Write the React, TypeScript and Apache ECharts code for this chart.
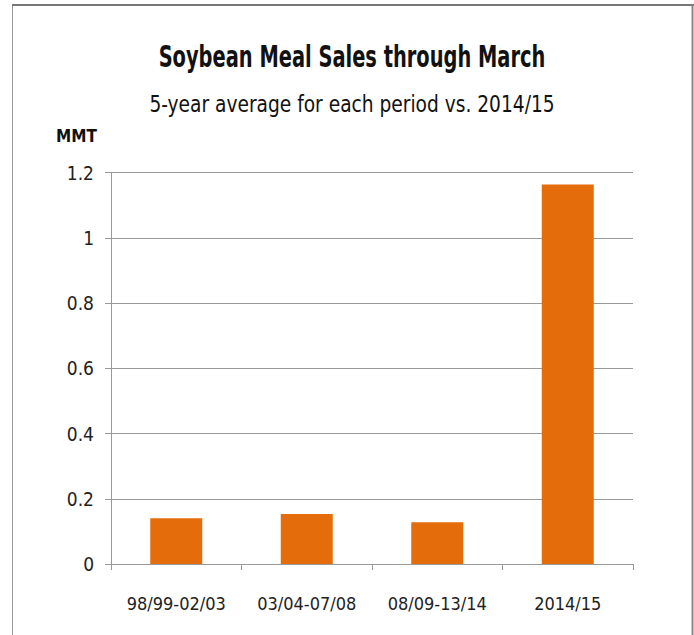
import React, { useEffect, useRef } from "react";
import * as echarts from "echarts";

const categories = ["98/99-02/03", "03/04-07/08", "08/09-13/14", "2014/15"];
const salesValues = [0.14, 0.153, 0.128, 1.163];
const titleText = "Soybean Meal Sales through March";
const subtitleText = "5-year average for each period vs. 2014/15";
const unitLabel = "MMT";

const FONT = "'DejaVu Sans Condensed', 'DejaVu Sans', sans-serif";

export default function App() {
  const ref = useRef<HTMLDivElement>(null);
  useEffect(() => {
    if (!ref.current) return;
    const chart = echarts.init(ref.current, null, { renderer: "svg" });
    chart.setOption({
      animation: false,
      backgroundColor: "#ffffff",
      textStyle: { fontFamily: FONT },
      graphic: [
        { type: "line", shape: { x1: 12.5, y1: 5, x2: 12.5, y2: 635 }, style: { stroke: "#999", lineWidth: 1 } },
        { type: "line", shape: { x1: 12, y1: 5, x2: 694, y2: 5 }, style: { stroke: "#777", lineWidth: 2 } },
        { type: "line", shape: { x1: 692.5, y1: 5, x2: 692.5, y2: 635 }, style: { stroke: "#888", lineWidth: 2 } },
        {
          type: "text",
          x: 352,
          y: 57,
          scaleX: 0.72,
          style: {
            text: titleText,
            fontFamily: FONT,
            fontSize: 30,
            fontWeight: "bold",
            fill: "#111",
            textAlign: "center",
            textVerticalAlign: "middle",
          },
        },
        {
          type: "text",
          x: 352,
          y: 104,
          scaleX: 0.9,
          style: {
            text: subtitleText,
            fontFamily: FONT,
            fontSize: 23,
            fill: "#111",
            textAlign: "center",
            textVerticalAlign: "middle",
          },
        },
        {
          type: "text",
          left: 56,
          top: 127,
          style: { text: unitLabel, fontFamily: FONT, fontSize: 17, fontWeight: "bold", fill: "#111" },
        },
      ],
      grid: { left: 111, right: 61, top: 172.5, bottom: 71, containLabel: false },
      xAxis: {
        type: "category",
        data: categories,
        axisLine: { show: true, lineStyle: { color: "#999", width: 1 } },
        axisTick: { show: true, alignWithLabel: false, length: 6, lineStyle: { color: "#999" } },
        axisLabel: { fontFamily: FONT, fontSize: 18, color: "#222", margin: 30, interval: 0 },
      },
      yAxis: {
        type: "value",
        min: 0,
        max: 1.2,
        interval: 0.2,
        axisLine: { show: true, lineStyle: { color: "#999", width: 1 } },
        axisTick: { show: true, length: 6, lineStyle: { color: "#999" } },
        splitLine: { show: true, lineStyle: { color: "#999", width: 1 } },
        axisLabel: { fontFamily: FONT, fontSize: 19, color: "#222", margin: 17 },
      },
      series: [
        {
          type: "bar",
          data: salesValues,
          barWidth: 52,
          itemStyle: { color: "#E46C0A" },
        },
      ],
    });
    return () => chart.dispose();
  }, []);
  return <div ref={ref} style={{ position: "fixed", left: 0, top: 0, width: 694, height: 635 }} />;
}
